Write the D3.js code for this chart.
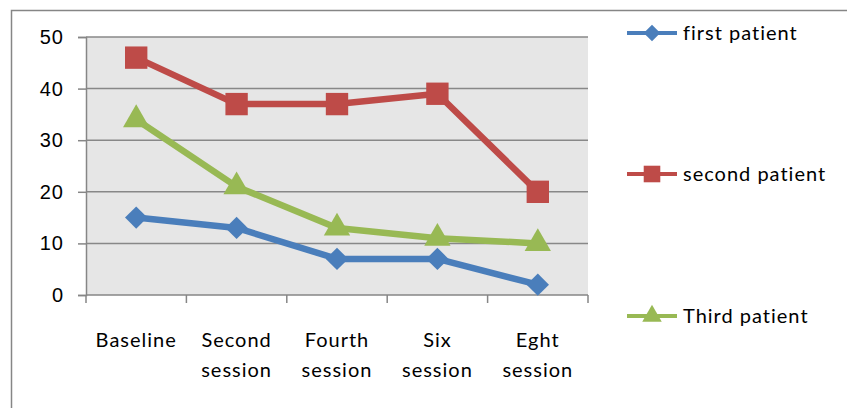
<!DOCTYPE html>
<html>
<head>
<meta charset="utf-8">
<script src="https://cdn.jsdelivr.net/npm/d3@7"></script>
<style>
  body { margin: 0; background: #fff; }
  svg { display: block; font-family: Lato, "Open Sans", sans-serif; }
  text { letter-spacing: 1px; }
</style>
</head>
<body>
<div class="chart"></div>
<script>
// data
const sessions = [['Baseline'], ['Second', 'session'], ['Fourth', 'session'], ['Six', 'session'], ['Eght', 'session']];
const firstPatient = [15, 13, 7, 7, 2];
const secondPatient = [46, 37, 37, 39, 20];
const thirdPatient = [34, 21, 13, 11, 10];
const yTicks = [0, 10, 20, 30, 40, 50];

// diamond = square turned 45deg, like the office marker
const series = [
    { name: 'first patient', values: firstPatient, color: '#4a7ebb', shape: d3.symbolSquare, size: 250, rotate: 45 },
    { name: 'second patient', values: secondPatient, color: '#be4b48', shape: d3.symbolSquare, size: 500, rotate: 0 },
    { name: 'Third patient', values: thirdPatient, color: '#98b954', shape: d3.symbolTriangle, size: 300, rotate: 0 }
];

const width = 847, height = 408;
const plot = { left: 86, right: 588, top: 37, bottom: 295 };

const svg = d3.select('.chart')
    .append('svg')
    .attr('width', width)
    .attr('height', height);

// outer chart border
svg.append('rect')
    .attr('x', 11.5).attr('y', 10.5)
    .attr('width', width).attr('height', height)
    .attr('fill', 'none')
    .attr('stroke', '#868686')
    .attr('stroke-width', 1.5);

const x = d3.scaleBand()
    .domain(d3.range(sessions.length))
    .range([plot.left, plot.right]);

const y = d3.scaleLinear()
    .domain([0, 50])
    .range([plot.bottom, plot.top]);

svg.append('rect')
    .attr('x', plot.left).attr('y', plot.top)
    .attr('width', plot.right - plot.left)
    .attr('height', plot.bottom - plot.top)
    .attr('fill', '#e6e6e6');

// gridlines
svg.append('g')
    .selectAll('line')
    .data(yTicks.filter(d => d > 0))
    .join('line')
    .attr('x1', plot.left).attr('x2', plot.right)
    .attr('y1', d => y(d)).attr('y2', d => y(d))
    .attr('stroke', '#888')
    .attr('stroke-width', 1.5);

// y axis
const yAxis = svg.append('g')
    .attr('transform', `translate(${plot.left},0)`)
    .call(d3.axisLeft(y).tickValues(yTicks).tickSize(8).tickPadding(14));
yAxis.select('.domain').attr('stroke', '#868686').attr('stroke-width', 1.5);
yAxis.selectAll('.tick line').attr('stroke', '#868686').attr('stroke-width', 1.5);
yAxis.selectAll('text').attr('font-size', 20).attr('fill', '#000');

// x axis, ticks on category boundaries
const xAxis = svg.append('g')
    .attr('transform', `translate(0,${plot.bottom})`);
xAxis.append('line')
    .attr('x1', plot.left).attr('x2', plot.right)
    .attr('stroke', '#868686').attr('stroke-width', 1.5);
xAxis.selectAll('.xtick')
    .data(d3.range(sessions.length + 1))
    .join('line')
    .attr('class', 'xtick')
    .attr('x1', i => plot.left + i * x.step())
    .attr('x2', i => plot.left + i * x.step())
    .attr('y1', 0).attr('y2', 8)
    .attr('stroke', '#868686').attr('stroke-width', 1.5);

const labels = xAxis.selectAll('text')
    .data(sessions)
    .join('text')
    .attr('x', (d, i) => x(i) + x.bandwidth() / 2)
    .attr('y', 52)
    .attr('text-anchor', 'middle')
    .attr('font-size', 20)
    .attr('fill', '#000');
labels.selectAll('tspan')
    .data(d => d)
    .join('tspan')
    .attr('x', function () { return d3.select(this.parentNode).attr('x'); })
    .attr('dy', (d, i) => i === 0 ? 0 : 30)
    .text(d => d);

// lines and markers
const line = d3.line()
    .x((d, i) => x(i) + x.bandwidth() / 2)
    .y(d => y(d));

series.forEach(s => {
    const g = svg.append('g');
    g.append('path')
        .attr('d', line(s.values))
        .attr('fill', 'none')
        .attr('stroke', s.color)
        .attr('stroke-width', 6.5)
        .attr('stroke-linejoin', 'round');
    g.selectAll('path.marker')
        .data(s.values)
        .join('path')
        .attr('class', 'marker')
        .attr('d', d3.symbol().type(s.shape).size(s.size))
        .attr('transform', (d, i) => `translate(${x(i) + x.bandwidth() / 2},${y(d)}) rotate(${s.rotate})`)
        .attr('fill', s.color);
});

// legend
const legendY = [33, 174, 316];
const legend = svg.append('g');
series.forEach((s, i) => {
    const g = legend.append('g')
        .attr('transform', `translate(627,${legendY[i]})`);
    g.append('line')
        .attr('x1', 0).attr('x2', 50)
        .attr('stroke', s.color).attr('stroke-width', 4);
    g.append('path')
        .attr('d', d3.symbol().type(s.shape).size(s.size * 0.55))
        .attr('transform', `translate(25,0) rotate(${s.rotate})`)
        .attr('fill', s.color);
    g.append('text')
        .attr('x', 56).attr('y', 0)
        .attr('dy', '0.35em')
        .attr('font-size', 20)
        .attr('fill', '#000')
        .text(s.name);
});
</script>
</body>
</html>
